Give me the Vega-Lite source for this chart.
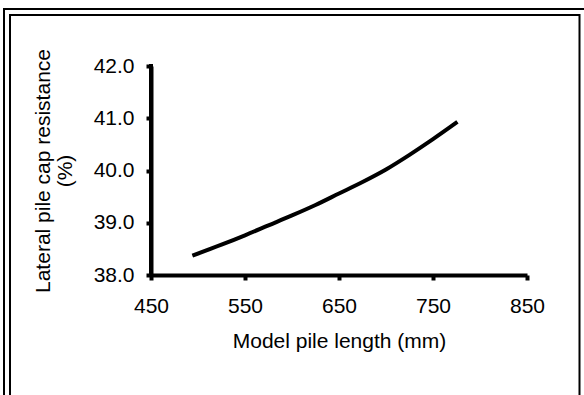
{
  "$schema": "https://vega.github.io/schema/vega-lite/v6.json",
  "autosize": {"type": "none"},
  "padding": {"left": 151, "top": 66, "right": 57, "bottom": 120},
  "width": 376,
  "height": 209,
  "config": {
    "view": {"stroke": null, "fill": null},
    "font": "Liberation Sans",
    "axis": {
      "grid": false,
      "domain": true,
      "domainColor": "black",
      "domainWidth": 4,
      "tickColor": "black",
      "tickWidth": 4,
      "tickSize": 5,
      "labelFlush": false,
      "labelOverlap": false,
      "labelFont": "Liberation Sans",
      "labelFontSize": 21,
      "labelColor": "black",
      "titleFont": "Liberation Sans",
      "titleFontSize": 21,
      "titleFontWeight": "normal",
      "titleColor": "black"
    }
  },
  "layer": [
    {
      "data": {"values": [{"frame": "outer"}]},
      "mark": {"type": "rect", "fillOpacity": 0, "stroke": "black", "strokeWidth": 2, "clip": false},
      "encoding": {
        "x": {"value": -147},
        "x2": {"value": 450},
        "y": {"value": -57},
        "y2": {"value": 340}
      }
    },
    {
      "data": {"values": [{"frame": "inner"}]},
      "mark": {"type": "rect", "fillOpacity": 0, "stroke": "black", "strokeWidth": 2, "clip": false},
      "encoding": {
        "x": {"value": -141},
        "x2": {"value": 428.5},
        "y": {"value": -51},
        "y2": {"value": 330}
      }
    },
    {
      "data": {"values": [{"length": 450, "low": 38, "high": 42}]},
      "mark": {"type": "rule", "color": "black", "strokeWidth": 4, "strokeCap": "square"},
      "encoding": {
        "x": {"field": "length", "type": "quantitative"},
        "y": {"field": "low", "type": "quantitative"},
        "y2": {"field": "high"}
      }
    },
    {
      "data": {
        "values": [
          {"length": 494, "resistance": 38.37},
          {"length": 525, "resistance": 38.58},
          {"length": 550, "resistance": 38.76},
          {"length": 575, "resistance": 38.95},
          {"length": 600, "resistance": 39.14},
          {"length": 625, "resistance": 39.34},
          {"length": 650, "resistance": 39.56},
          {"length": 675, "resistance": 39.78},
          {"length": 700, "resistance": 40.02},
          {"length": 725, "resistance": 40.3},
          {"length": 750, "resistance": 40.6},
          {"length": 776, "resistance": 40.93}
        ]
      },
      "mark": {"type": "line", "color": "black", "strokeWidth": 4, "interpolate": "monotone"},
      "encoding": {
        "x": {
          "field": "length",
          "type": "quantitative",
          "scale": {"domain": [450, 850], "nice": false, "zero": false},
          "axis": {"values": [450, 550, 650, 750, 850], "title": "Model pile length (mm)", "labelPadding": 15, "titlePadding": 14, "zindex": 1}
        },
        "y": {
          "field": "resistance",
          "type": "quantitative",
          "scale": {"domain": [38, 42], "nice": false, "zero": false},
          "axis": {"orient": "left", "values": [38, 39, 40, 41, 42], "title": ["Lateral pile cap resistance", "(%)"], "labelPadding": 12, "titlePadding": 18, "titleLineHeight": 22, "zindex": 2}
        }
      }
    }
  ]
}
